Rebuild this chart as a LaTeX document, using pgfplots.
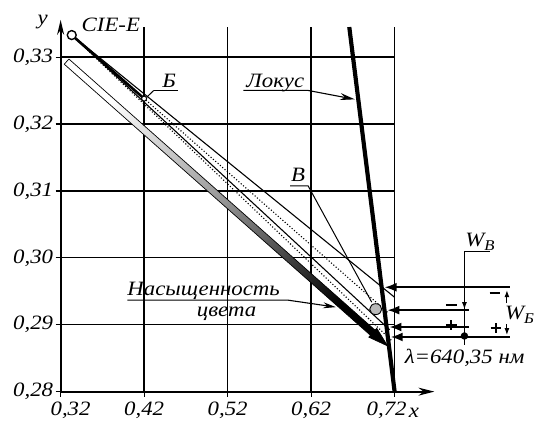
\documentclass[border=0pt]{standalone}
\usepackage{pgfplots}
\pgfplotsset{compat=1.18}
\usetikzlibrary{arrows.meta}
\usepackage{fontspec}
\setmainfont{Liberation Serif}[FakeStretch=1.12]
\newcommand\fs{\fontsize{20.5}{22}\selectfont\itshape}
\newcommand\fsub{\fontsize{15}{15}\selectfont\itshape}
\begin{document}
\begin{tikzpicture}
\begin{axis}[
  scale only axis, width=470.4pt, height=394pt,
  xmin=0.32, xmax=0.88, ymin=0.28, ymax=0.33854,
  axis x line*=bottom, axis y line*=left,
  axis line style={draw=none},
  xtick={0.32,0.42,0.52,0.62,0.72},
  xticklabels={{\hspace*{20pt}0,32},{0,42},{0,52},{0,62},{0,72\hspace*{16pt}}},
  ytick={0.28,0.29,0.30,0.31,0.32,0.33},
  yticklabels={{0,28},{0,29},{0,30},{0,31},{0,32},{0,33}},
  tick align=outside, major tick length=5pt,
  tick style={black, line width=1.2pt},
  xticklabel style={font=\fs, yshift=-2pt},
  yticklabel style={font=\fs, xshift=1pt},
  clip=false,
]
% bounding box
\path (axis cs:0.32,0.28) ++(-61pt,-31pt) -- ++(0pt,0pt);
\path (axis cs:0.88,0.33854) ++(3pt,0pt) -- ++(0pt,0pt);
% grid
\foreach \xx in {0.42,0.52,0.62,0.72}{
  \edef\tmp{\noexpand\draw[line width=1.3pt] (axis cs:\xx,0.28) -- (axis cs:\xx,0.33453);}\tmp
}
\foreach \yy in {0.29,0.30,0.31,0.32,0.33}{
  \edef\tmp{\noexpand\draw[line width=1.3pt] (axis cs:0.32,\yy) -- (axis cs:0.72,\yy);}\tmp
}
% axes
\draw[line width=1.8pt, -{Stealth[length=16pt,width=8pt]}] (axis cs:0.32,0.28) -- (axis cs:0.7676,0.28);
\draw[line width=1.8pt, -{Stealth[length=15pt,width=7pt]}] (axis cs:0.32,0.28) -- (axis cs:0.32,0.33557);
% saturation bar
\addplot[draw=black, line width=0.7pt, top color=white, bottom color=black, middle color=gray!85, shading angle=48.5]
  coordinates {(0.32990,0.32972) (0.69661,0.28919) (0.69858,0.28947) (0.71167,0.28683) (0.68911,0.28814) (0.69108,0.28842) (0.32438,0.32894) (0.32990,0.32972)};
% fan lines
\addplot[line width=1.1pt] coordinates {(0.3333,0.3333) (0.72,0.2941)};
\addplot[line width=1.1pt, dash pattern=on 1.1pt off 2pt] coordinates {(0.3333,0.3333) (0.713,0.2917)};
\addplot[line width=1.1pt] coordinates {(0.3333,0.3333) (0.714,0.28925)};
\addplot[line width=1.1pt, dash pattern=on 1.1pt off 2pt] coordinates {(0.3333,0.3333) (0.716,0.28768)};
\addplot[line width=2.6pt] coordinates {(0.3333,0.3333) (0.42,0.3238)};
% locus
\addplot[line width=4.2pt] coordinates {(0.72,0.28) (0.6657,0.3345)};
% leaders
\draw[line width=1pt] (axis cs:0.43155,0.32502) -- (axis cs:0.46,0.32502);
\draw[line width=1pt] (axis cs:0.43155,0.32502) -- (axis cs:0.4230,0.3240);
\draw[line width=1pt] (axis cs:0.595,0.31076) -- (axis cs:0.6164,0.31076) -- (axis cs:0.6926,0.29337);
\draw[line width=1.1pt, -{Stealth[length=15pt,width=7pt]}] (axis cs:0.5390,0.32502) -- (axis cs:0.6164,0.32502) -- (axis cs:0.6724,0.32369);
\draw[line width=1.1pt, -{Stealth[length=13pt,width=6pt]}] (axis cs:0.3998,0.29367) -- (axis cs:0.5926,0.29367) -- (axis cs:0.6498,0.29263);
% points
\addplot[only marks, mark=*, mark size=4.5pt, mark options={fill=white, draw=black, line width=1.4pt}] coordinates {(0.3333,0.3333)};
\addplot[only marks, mark=*, mark size=2.5pt, mark options={fill=white, draw=black, line width=1pt}] coordinates {(0.42,0.3238)};
\addplot[only marks, mark=*, mark size=5.5pt, mark options={fill=gray!55, draw=black, line width=0.9pt, xscale=1.1}] coordinates {(0.69738,0.29233)};
% horizontal marker arrows
\draw[line width=1.8pt, -{Latex[length=12pt,width=9pt]}] (axis cs:0.8581,0.29560) -- (axis cs:0.7080,0.29560);
\draw[line width=1.8pt, -{Latex[length=12pt,width=9pt]}] (axis cs:0.8093,0.29218) -- (axis cs:0.7114,0.29218);
\draw[line width=1.8pt, -{Latex[length=12pt,width=9pt]}] (axis cs:0.8093,0.28966) -- (axis cs:0.7139,0.28966);
\draw[line width=1.8pt, -{Latex[length=12pt,width=9pt]}] (axis cs:0.8581,0.28817) -- (axis cs:0.7154,0.28817);
% W_V dimension
\draw[line width=1pt] (axis cs:0.8345,0.30095) -- (axis cs:0.8036,0.30095) -- (axis cs:0.8036,0.28698);
\draw[line width=1pt, -{Latex[length=7pt,width=5pt]}] (axis cs:0.8036,0.2945) -- (axis cs:0.8036,0.29233);
\addplot[only marks, mark=*, mark size=3.5pt, mark options={fill=black}] coordinates {(0.8036,0.28832)};
% W_B dimension
\draw[line width=1pt, -{Latex[length=7pt,width=5pt]}] (axis cs:0.8545,0.29322) -- (axis cs:0.8545,0.29516);
\draw[line width=1pt, -{Latex[length=7pt,width=5pt]}] (axis cs:0.8545,0.29010) -- (axis cs:0.8545,0.28847);
% plus / minus signs
\draw[line width=2pt] (axis cs:0.7813,0.29293) -- (axis cs:0.7944,0.29293);
\draw[line width=2pt] (axis cs:0.7813,0.28996) -- (axis cs:0.7944,0.28996);
\draw[line width=2pt] (axis cs:0.78786,0.29070) -- (axis cs:0.78786,0.28922);
\draw[line width=2pt] (axis cs:0.8337,0.29471) -- (axis cs:0.8468,0.29471);
\draw[line width=2pt] (axis cs:0.8349,0.28951) -- (axis cs:0.8480,0.28951);
\draw[line width=2pt] (axis cs:0.84143,0.29025) -- (axis cs:0.84143,0.28877);
% labels
\node[anchor=base, font=\fs] at (axis cs:0.29857,0.33483) {y};
\node[anchor=base west, font=\fs, inner sep=0pt] at (axis cs:0.345,0.33379) {CIE-E};
\node[anchor=base, font=\fs, inner sep=0pt] at (axis cs:0.4498,0.32547) {Б};
\node[anchor=base, font=\fs, inner sep=0pt] at (axis cs:0.5771,0.32547) {Локус};
\node[anchor=base, font=\fs, inner sep=0pt] at (axis cs:0.60452,0.31135) {В};
\node[anchor=base west, font=\fs, inner sep=0pt] at (axis cs:0.39976,0.29440) {Насыщенность};
\node[anchor=base west, font=\fs, inner sep=0pt] at (axis cs:0.4830,0.29130) {цвета};
\node[anchor=base west, font=\fs, inner sep=0pt] at (axis cs:0.7319,0.28416) {λ=640,35 нм};
\node[anchor=base, font=\fs, inner sep=0pt] at (axis cs:0.7430,0.27614) {x};
\node[anchor=base west, font=\fs, inner sep=0pt] at (axis cs:0.80452,0.30169) {W\raisebox{-4pt}{\fsub В}};
\node[anchor=base west, font=\fs, inner sep=0pt] at (axis cs:0.85214,0.29085) {W\raisebox{-4pt}{\fsub Б}};
\end{axis}
\end{tikzpicture}
\end{document}
